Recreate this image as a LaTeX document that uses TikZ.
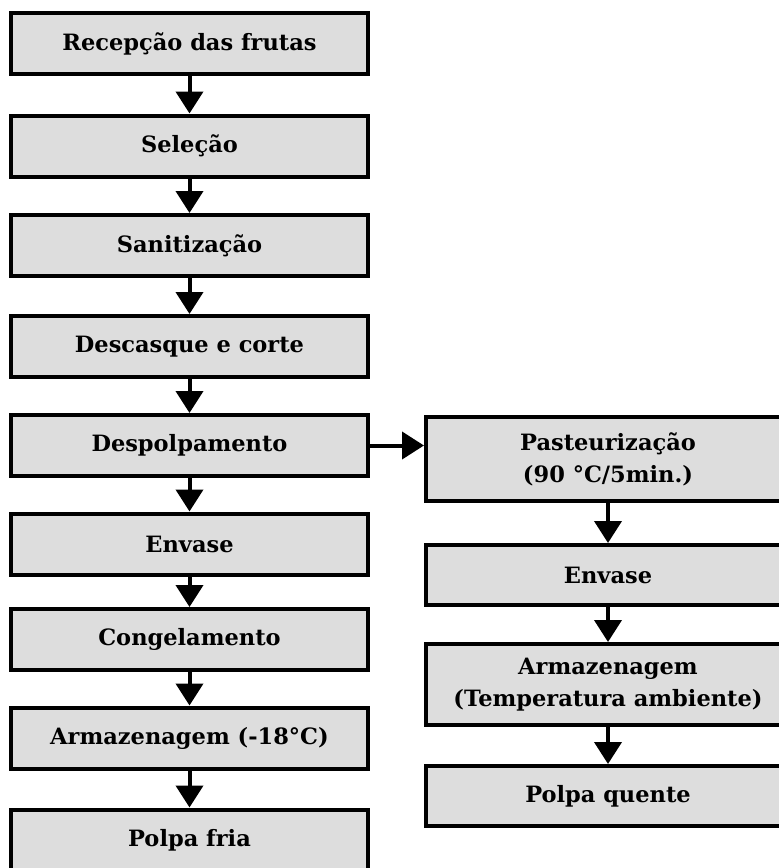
\documentclass[tikz,border=0pt]{standalone}
\usepackage{fontspec}
\setmainfont{DejaVu Serif}
\usetikzlibrary{arrows.meta}
\tikzset{
  stepbox/.style={draw=black, fill=boxgray, line width=4pt, inner sep=0pt,
    font=\bfseries\fontsize{22.5}{32}\selectfont, align=center},
  leftbox/.style={stepbox, minimum width=357pt, minimum height=61pt},
  rightbox/.style={stepbox, minimum width=364pt},
  flow/.style={line width=4pt, -{Triangle[width=27pt,length=22pt]}},
}
\definecolor{boxgray}{HTML}{DDDDDD}
\begin{document}
\begin{tikzpicture}[x=1pt,y=-1pt]
\path[use as bounding box, clip] (0,0) rectangle (779,868);
\node[leftbox] (a1) at (189.5,43.5) {Recepção das frutas};
\node[leftbox] (a2) at (189.5,146) {Seleção};
\node[leftbox] (a3) at (189.5,245.5) {Sanitização};
\node[leftbox] (a4) at (189.5,346.5) {Descasque e corte};
\node[leftbox] (a5) at (189.5,445.5) {Despolpamento};
\node[leftbox] (a6) at (189.5,544) {Envase};
\node[leftbox] (a7) at (189.5,639.5) {Congelamento};
\node[leftbox] (a8) at (189.5,738) {Armazenagem (-18°C)};
\node[leftbox] (a9) at (189.5,840) {Polpa fria};
\node[rightbox, minimum height=84pt] (b1) at (608,459) {Pasteurização\\(90 °C/5min.)};
\node[rightbox, minimum height=60pt] (b2) at (608,575) {Envase};
\node[rightbox, minimum height=81pt] (b3) at (608,684.5) {Armazenagem\\(Temperatura ambiente)};
\node[rightbox, minimum height=60pt] (b4) at (608,796) {Polpa quente};
\draw[flow] (a1) -- (a2);
\draw[flow] (a2) -- (a3);
\draw[flow] (a3) -- (a4);
\draw[flow] (a4) -- (a5);
\draw[flow] (a5) -- (a6);
\draw[flow] (a6) -- (a7);
\draw[flow] (a7) -- (a8);
\draw[flow] (a8) -- (a9);
\draw[flow] (a5) -- (b1.west |- a5);
\draw[flow] (b1) -- (b2);
\draw[flow] (b2) -- (b3);
\draw[flow] (b3) -- (b4);
\end{tikzpicture}
\end{document}
